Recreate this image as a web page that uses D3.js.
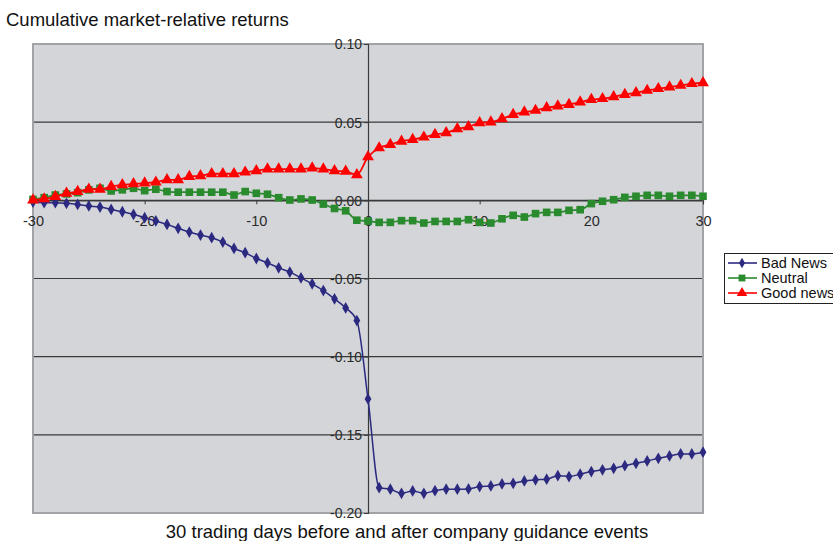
<!DOCTYPE html>
<html>
<head>
<meta charset="utf-8">
<script src="https://cdn.jsdelivr.net/npm/d3@7"></script>
<style>
  html, body { margin: 0; padding: 0; background: #ffffff; }
  svg { display: block; font-family: "Liberation Sans", Arial, sans-serif; }
</style>
</head>
<body>
<svg id="chart" width="833" height="541"></svg>
<script>
const days = d3.range(-30, 31);

const badNews = [
  -0.0011, -0.0015, -0.0015, -0.0019, -0.0026, -0.0036, -0.0043, -0.0058, -0.0073, -0.0090,
  -0.0111, -0.0132, -0.0154, -0.0179, -0.0203, -0.0222, -0.0239, -0.0267, -0.0308, -0.0335,
  -0.0372, -0.0400, -0.0432, -0.0459, -0.0496, -0.0534, -0.0577, -0.0630, -0.0688, -0.0769,
  -0.1270,
  -0.1838, -0.1848, -0.1874, -0.1859, -0.1874, -0.1857, -0.1848, -0.1848, -0.1846, -0.1831,
  -0.1827, -0.1814, -0.1810, -0.1795, -0.1788, -0.1784, -0.1761, -0.1767, -0.1752, -0.1735,
  -0.1724, -0.1714, -0.1697, -0.1682, -0.1667, -0.1650, -0.1635, -0.1622, -0.1622, -0.1611
];

const neutral = [
  0.0006, 0.0017, 0.0034, 0.0041, 0.0049, 0.0067, 0.0077, 0.0060, 0.0067, 0.0077,
  0.0062, 0.0071, 0.0056, 0.0052, 0.0052, 0.0052, 0.0052, 0.0052, 0.0034, 0.0056,
  0.0045, 0.0039, 0.0017, 0.0002, 0.0009, 0.0002, -0.0024, -0.0052, -0.0067, -0.0127,
  -0.0133,
  -0.0141, -0.0141, -0.0130, -0.0130, -0.0145, -0.0135, -0.0135, -0.0135, -0.0124, -0.0141,
  -0.0145, -0.0118, -0.0096, -0.0107, -0.0085, -0.0077, -0.0077, -0.0064, -0.0060, -0.0021,
  -0.0006, 0.0004, 0.0019, 0.0026, 0.0032, 0.0032, 0.0026, 0.0032, 0.0032, 0.0026
];

const goodNews = [
  0.0002, 0.0009, 0.0024, 0.0045, 0.0056, 0.0071, 0.0071, 0.0088, 0.0099, 0.0105,
  0.0110, 0.0116, 0.0131, 0.0131, 0.0152, 0.0157, 0.0170, 0.0170, 0.0170, 0.0180,
  0.0189, 0.0200, 0.0200, 0.0200, 0.0200, 0.0206, 0.0200, 0.0189, 0.0185, 0.0163,
  0.0278,
  0.0335, 0.0357, 0.0378, 0.0389, 0.0404, 0.0421, 0.0432, 0.0457, 0.0470, 0.0496,
  0.0500, 0.0521, 0.0549, 0.0564, 0.0575, 0.0592, 0.0603, 0.0613, 0.0628, 0.0645,
  0.0650, 0.0662, 0.0677, 0.0688, 0.0703, 0.0714, 0.0724, 0.0735, 0.0746, 0.0752
];

const xTicks = [-30, -20, -10, 0, 10, 20, 30];
const yTicks = [0.10, 0.05, 0.00, -0.05, -0.10, -0.15, -0.20];
const seriesNames = ["Bad News", "Neutral", "Good news"];

const titleText = "Cumulative market-relative returns";
const xTitleText = "30 trading days before and after company guidance events";

const svg = d3.select("#chart");
const plot = { left: 33, right: 703, top: 44, bottom: 513 };

const x = d3.scaleLinear().domain([-30, 30]).range([plot.left, plot.right]);
const y = d3.scaleLinear().domain([-0.20, 0.10]).range([plot.bottom, plot.top]);

// plot background
svg.append("rect")
  .attr("x", plot.left).attr("y", plot.top)
  .attr("width", plot.right - plot.left).attr("height", plot.bottom - plot.top)
  .attr("fill", "#d4d5d9");

// horizontal gridlines
svg.append("g").selectAll("line").data(yTicks).join("line")
  .attr("x1", plot.left).attr("x2", plot.right)
  .attr("y1", d => y(d)).attr("y2", d => y(d))
  .attr("stroke", "#3a3a3a").attr("stroke-width", 1.2);

// plot border
svg.append("rect")
  .attr("x", plot.left).attr("y", plot.top)
  .attr("width", plot.right - plot.left).attr("height", plot.bottom - plot.top)
  .attr("fill", "none").attr("stroke", "#a2a3a6").attr("stroke-width", 2);

// axes crossing at zero
const fmt = v => v.toFixed(2);
const yAxis = d3.axisLeft(y).tickValues(yTicks).tickFormat(fmt).tickSize(4).tickPadding(2);
const gy = svg.append("g").attr("transform", `translate(${x(0)},0)`).call(yAxis);
gy.select(".domain").attr("stroke", "#3a3a3a").attr("stroke-width", 1.2);
gy.selectAll(".tick line").attr("stroke", "#3a3a3a");
gy.selectAll(".tick text")
  .attr("font-size", 14).attr("fill", "#2a2a2a").attr("dy", "0.35em")
  .attr("font-family", "'Liberation Sans', Arial, sans-serif");

const xAxis = d3.axisBottom(x).tickValues(xTicks).tickFormat(d => String(d)).tickSize(4).tickPadding(11);
const gx = svg.append("g").attr("transform", `translate(0,${y(0)})`).call(xAxis);
gx.select(".domain").attr("stroke", "#3a3a3a").attr("stroke-width", 1.2);
gx.selectAll(".tick line").attr("stroke", "#3a3a3a");
gx.selectAll(".tick text")
  .attr("font-size", 14.5).attr("fill", "#2a2a2a")
  .attr("font-family", "'Liberation Sans', Arial, sans-serif");

// series
const series = [
  { name: seriesNames[0], values: badNews, color: "#2c2a80", symbol: d3.symbolDiamond, size: 40, width: 1.5 },
  { name: seriesNames[1], values: neutral, color: "#2a8a2e", symbol: d3.symbolSquare, size: 58, width: 1.7 },
  { name: seriesNames[2], values: goodNews, color: "#ff0000", symbol: d3.symbolTriangle, size: 60, width: 1.8 }
];

const line = d3.line()
  .x((d, i) => x(days[i]))
  .y(d => y(d))
  .curve(d3.curveMonotoneX);

series.forEach(s => {
  const g = svg.append("g");
  g.append("path").datum(s.values)
    .attr("d", line).attr("fill", "none")
    .attr("stroke", s.color).attr("stroke-width", s.width);
  g.selectAll("path.m").data(s.values).join("path")
    .attr("class", "m")
    .attr("transform", (d, i) => `translate(${x(days[i])},${y(d)})`)
    .attr("d", d3.symbol().type(s.symbol).size(s.size))
    .attr("fill", s.color);
});

// title
svg.append("text").attr("x", 6).attr("y", 25.5)
  .attr("font-size", 18.5).attr("fill", "#111").text(titleText);

// x axis title
svg.append("text").attr("x", 407).attr("y", 538)
  .attr("text-anchor", "middle").attr("font-size", 18.5).attr("fill", "#111").text(xTitleText);

// legend
const lg = svg.append("g");
lg.append("rect").attr("x", 724.5).attr("y", 253.5).attr("width", 130).attr("height", 50)
  .attr("fill", "#ffffff").attr("stroke", "#222").attr("stroke-width", 1);
series.forEach((s, i) => {
  const cy = 263 + i * 15;
  lg.append("line").attr("x1", 728).attr("x2", 757).attr("y1", cy).attr("y2", cy)
    .attr("stroke", s.color).attr("stroke-width", 1.6);
  lg.append("path").attr("transform", `translate(742,${cy})`)
    .attr("d", d3.symbol().type(s.symbol).size(s.size * 0.8)).attr("fill", s.color);
  lg.append("text").attr("x", 761).attr("y", cy).attr("dy", "0.35em")
    .attr("font-size", 14.5).attr("fill", "#111").text(s.name);
});
</script>
</body>
</html>
